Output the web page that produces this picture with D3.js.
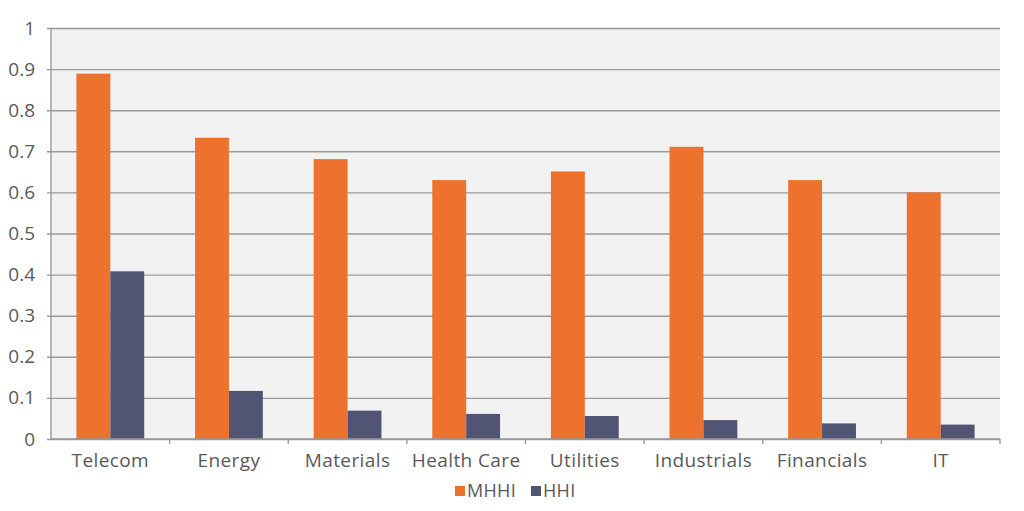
<!DOCTYPE html>
<html>
<head>
<meta charset="utf-8">
<script src="https://cdn.jsdelivr.net/npm/d3@7"></script>
<style>
  body { margin: 0; background: #fff; }
  text { font-family: "Open Sans", Lato, sans-serif; fill: #595959; }
</style>
</head>
<body>
<div id="chart"></div>
<script>

const categories = ["Telecom", "Energy", "Materials", "Health Care", "Utilities", "Industrials", "Financials", "IT"];
const seriesNames = ["MHHI", "HHI"];
const mhhiValues = [0.889, 0.733, 0.681, 0.630, 0.651, 0.711, 0.630, 0.600];
const hhiValues = [0.408, 0.117, 0.069, 0.061, 0.056, 0.046, 0.038, 0.035];
const yTicks = [0, 0.1, 0.2, 0.3, 0.4, 0.5, 0.6, 0.7, 0.8, 0.9, 1];
const colors = ["#ED722E", "#515573"];

const dimensions = {
    width: 1024,
    height: 511,
    margin: { top: 28, right: 24, bottom: 72, left: 51 }
};
dimensions.containerWidth = dimensions.width - dimensions.margin.left - dimensions.margin.right;
dimensions.containerHeight = dimensions.height - dimensions.margin.top - dimensions.margin.bottom;

const data = categories.map((c, i) => ({ category: c, values: [mhhiValues[i], hhiValues[i]] }));

const svg = d3.select("#chart")
    .append("svg")
    .attr("width", dimensions.width)
    .attr("height", dimensions.height);

const container = svg.append("g")
    .attr("transform", `translate(${dimensions.margin.left}, ${dimensions.margin.top})`);

const xScale = d3.scaleBand()
    .domain(categories)
    .range([0, dimensions.containerWidth])
    .padding(0);

const xSub = d3.scaleBand()
    .domain(seriesNames)
    .range([0, xScale.bandwidth()])
    .paddingInner(0)
    .paddingOuter(0.75);

const yScale = d3.scaleLinear()
    .domain([0, 1])
    .range([dimensions.containerHeight, 0]);

// plot background
container.append("rect")
    .attr("width", dimensions.containerWidth)
    .attr("height", dimensions.containerHeight)
    .attr("fill", "#F2F2F2");

// grid + y axis
const yAxis = d3.axisLeft(yScale)
    .tickValues(yTicks)
    .tickFormat(d => d === 0 ? "0" : d === 1 ? "1" : d3.format(".1f")(d))
    .tickSize(-dimensions.containerWidth - 4)
    .tickSizeOuter(0)
    .tickPadding(12);

const yAxisGroup = container.append("g")
    .attr("transform", "translate(-4, 0)")
    .call(yAxis);
yAxisGroup.select(".domain").remove();
yAxisGroup.selectAll(".tick line")
    .attr("stroke", "#999")
    .attr("stroke-width", 1.4);
yAxisGroup.selectAll(".tick text")
    .attr("x", -12)
    .style("font-family", "'Open Sans', sans-serif")
    .style("font-size", "19px")
    .style("fill", "#595959");

// left axis line
container.append("line")
    .attr("x1", 0).attr("x2", 0)
    .attr("y1", 0).attr("y2", dimensions.containerHeight)
    .attr("stroke", "#999")
    .attr("stroke-width", 1.4);

// bars
const groups = container.selectAll(".group")
    .data(data)
    .join("g")
    .attr("class", "group")
    .attr("transform", d => `translate(${xScale(d.category)}, 0)`);

groups.selectAll("rect")
    .data(d => d.values.map((v, i) => ({ series: seriesNames[i], value: v })))
    .join("rect")
    .attr("x", d => xSub(d.series))
    .attr("width", xSub.bandwidth())
    .attr("y", d => yScale(d.value))
    .attr("height", d => dimensions.containerHeight - yScale(d.value))
    .attr("fill", (d, i) => colors[i]);

// x axis
const xAxisGroup = container.append("g")
    .attr("transform", `translate(0, ${dimensions.containerHeight})`);

xAxisGroup.append("line")
    .attr("x1", 0).attr("x2", dimensions.containerWidth)
    .attr("stroke", "#999")
    .attr("stroke-width", 1.4);

xAxisGroup.selectAll(".xtick")
    .data(categories.slice(1).concat([null]))
    .join("line")
    .attr("class", "xtick")
    .attr("x1", (d, i) => xScale.step() * (i + 1))
    .attr("x2", (d, i) => xScale.step() * (i + 1))
    .attr("y1", 0).attr("y2", 5)
    .attr("stroke", "#999")
    .attr("stroke-width", 1.4);

xAxisGroup.selectAll(".xlabel")
    .data(categories)
    .join("text")
    .attr("class", "xlabel")
    .attr("x", d => xScale(d) + xScale.bandwidth() / 2)
    .attr("y", 28)
    .attr("text-anchor", "middle")
    .style("font-size", "19px")
    .style("letter-spacing", "0.4px")
    .text(d => d);

// legend
const legend = svg.append("g")
    .attr("transform", "translate(455, 497)");

const legendItems = [
    { name: "MHHI", x: 0 },
    { name: "HHI", x: 76 }
];

const item = legend.selectAll(".item")
    .data(legendItems)
    .join("g")
    .attr("class", "item")
    .attr("transform", d => `translate(${d.x}, 0)`);

item.append("rect")
    .attr("y", -11)
    .attr("width", 10)
    .attr("height", 10)
    .attr("fill", (d, i) => colors[i]);

item.append("text")
    .attr("x", 12)
    .attr("y", 0)
    .style("font-size", "18px")
    .style("letter-spacing", "0.3px")
    .text(d => d.name);

</script>
</body>
</html>
